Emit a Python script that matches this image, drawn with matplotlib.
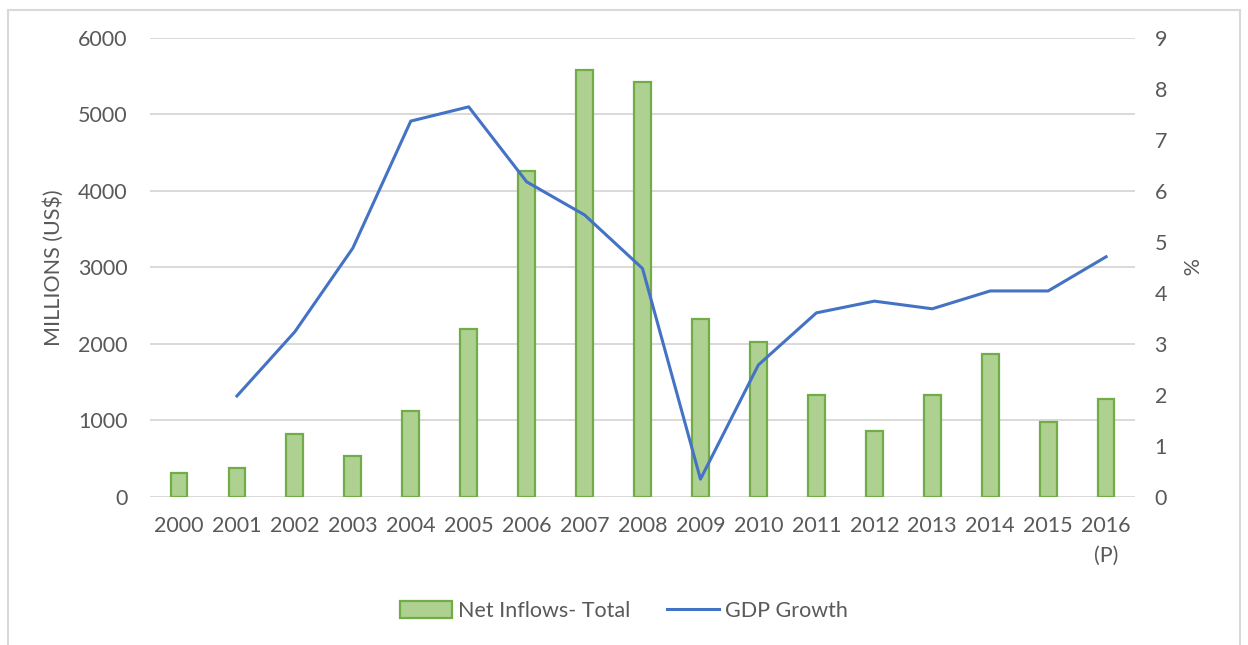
import matplotlib
matplotlib.use("Agg")
from matplotlib import pyplot as plt
from matplotlib.patches import Rectangle, Patch
from matplotlib.lines import Line2D

plt.rcParams['font.family'] = ['Lato', 'DejaVu Sans']

years = ["2000", "2001", "2002", "2003", "2004", "2005", "2006", "2007", "2008",
         "2009", "2010", "2011", "2012", "2013", "2014", "2015", "2016\n(P)"]
net_inflows = [308, 374, 825, 535, 1118, 2200, 4265, 5578, 5426,
               2330, 2020, 1329, 860, 1334, 1874, 979, 1282]
gdp_years = list(range(1, 17))
gdp_growth = [1.98, 3.24, 4.88, 7.37, 7.65, 6.18, 5.53, 4.48,
              0.35, 2.59, 3.61, 3.84, 3.69, 4.04, 4.04, 4.71]

grey = "#595959"
fs = 15.5
fig = plt.figure(figsize=(12.48, 6.45), dpi=100)
ax = fig.add_axes([0.1202, 0.2295, 0.7893, 0.7116])

x = range(len(years))
ax.bar(x, net_inflows, width=0.29, color="#aed191", edgecolor="#70ad47",
       linewidth=1.6, zorder=3)
ax.set_xlim(-0.5, 16.5)
ax.set_ylim(0, 6000)
ax.set_yticks(range(0, 6001, 1000))
ax.grid(axis="y", color="#d9d9d9", linewidth=1.4, zorder=0)
ax.set_axisbelow(True)
for s in ax.spines.values():
    s.set_visible(False)
ax.tick_params(length=0, labelsize=fs, colors=grey)
ax.tick_params(axis="y", pad=16)
ax.tick_params(axis="x", pad=14)
ax.set_xticks(list(x))
ax.set_xticklabels(years, linespacing=1.6)
ax.set_ylabel("MILLIONS (US$)", fontsize=fs, color=grey, labelpad=10)

ax2 = ax.twinx()
ax2.plot(gdp_years, gdp_growth, color="#4472c4", linewidth=2.2, zorder=4)
ax2.set_ylim(0, 9)
ax2.set_yticks(range(0, 10))
for s in ax2.spines.values():
    s.set_visible(False)
ax2.tick_params(length=0, labelsize=fs, colors=grey, pad=14)
ax2.set_ylabel("%", fontsize=fs, color=grey, rotation=270, labelpad=22)

handles = [Patch(facecolor="#aed191", edgecolor="#70ad47", linewidth=1.6),
           Line2D([0], [0], color="#4472c4", linewidth=2.2)]
fig.legend(handles, ["Net Inflows- Total", "GDP Growth"], loc="center",
           bbox_to_anchor=(0.5, 1 - 611 / 645), ncol=2, frameon=False,
           fontsize=fs, labelcolor=grey, handlelength=2.4, handleheight=0.8,
           columnspacing=1.7, handletextpad=0.3)

fig.patches.append(Rectangle((8 / 1248, -0.05), 1232 / 1248, 1.05 - 10 / 645,
                             transform=fig.transFigure, fill=False,
                             edgecolor="#d9d9d9", linewidth=1.5))

fig.savefig("out.png", dpi=100)
